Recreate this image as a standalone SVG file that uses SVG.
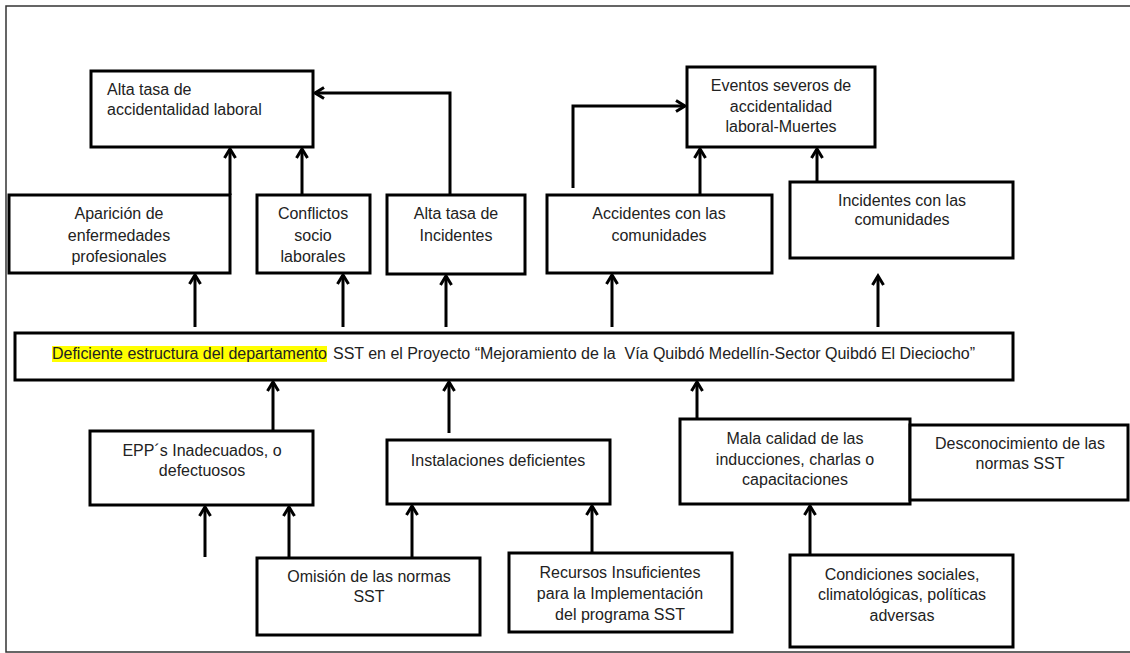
<svg xmlns="http://www.w3.org/2000/svg" width="1130" height="653" viewBox="0 0 1130 653">
<style>
.frame{fill:none;stroke:#333;stroke-width:1.5}
.box{fill:#fff;stroke:#000;stroke-width:3}
.t{font-family:"Liberation Sans",Arial,sans-serif;font-size:16px;fill:#222}
.c{text-anchor:middle}
.ln{fill:none;stroke:#000;stroke-width:3}
</style>
<defs>
<marker id="ah" markerUnits="userSpaceOnUse" markerWidth="20" markerHeight="20" viewBox="-12 -10 16 20" refX="0" refY="0" orient="auto">
<path d="M-9,-5.5 L0,0 L-9,5.5" fill="none" stroke="#000" stroke-width="3"/>
</marker>
</defs>
<rect width="1130" height="653" fill="#fff"/>
<rect class="frame" x="6" y="6" width="1130" height="646"/>

<g id="n-alta-accidentalidad">
<rect class="box" x="91" y="71" width="222" height="76"/>
<text class="t" x="107" y="95">Alta tasa de</text>
<text class="t" x="107" y="115">accidentalidad laboral</text>
</g>
<g id="n-eventos-severos">
<rect class="box" x="687" y="67" width="188" height="80"/>
<text class="t c" x="781" y="91">Eventos severos de</text>
<text class="t c" x="781" y="112">accidentalidad</text>
<text class="t c" x="781" y="132">laboral-Muertes</text>
</g>
<g id="n-aparicion">
<rect class="box" x="9" y="195" width="221" height="78"/>
<text class="t c" x="119" y="219">Aparición de</text>
<text class="t c" x="119" y="241">enfermedades</text>
<text class="t c" x="119" y="262">profesionales</text>
</g>
<g id="n-conflictos">
<rect class="box" x="257" y="195" width="113" height="78"/>
<text class="t c" x="313" y="219">Conflictos</text>
<text class="t c" x="313" y="241">socio</text>
<text class="t c" x="313" y="262">laborales</text>
</g>
<g id="n-alta-incidentes">
<rect class="box" x="387" y="195" width="138" height="79"/>
<text class="t c" x="456" y="219">Alta tasa de</text>
<text class="t c" x="456" y="241">Incidentes</text>
</g>
<g id="n-accidentes-comunidades">
<rect class="box" x="547" y="195" width="225" height="78"/>
<text class="t c" x="659" y="219">Accidentes con las</text>
<text class="t c" x="659" y="241">comunidades</text>
</g>
<g id="n-incidentes-comunidades">
<rect class="box" x="790" y="182" width="223" height="76"/>
<text class="t c" x="902" y="206">Incidentes con las</text>
<text class="t c" x="902" y="225">comunidades</text>
</g>
<g id="n-problema">
<rect class="box" x="15" y="333" width="998" height="47"/>
<rect x="52" y="346" width="275" height="16" fill="#ffff00"/>
<text class="t" x="52" y="359" textLength="275" lengthAdjust="spacing">Deficiente estructura del departamento</text>
<text class="t" x="333" y="359" textLength="642" lengthAdjust="spacing">SST en el Proyecto “Mejoramiento de la&#160; Vía Quibdó Medellín-Sector Quibdó El Dieciocho”</text>
</g>
<g id="n-epp">
<rect class="box" x="90" y="431" width="223" height="74"/>
<text class="t c" x="202" y="456">EPP´s Inadecuados, o</text>
<text class="t c" x="202" y="476">defectuosos</text>
</g>
<g id="n-instalaciones">
<rect class="box" x="387" y="440" width="223" height="64"/>
<text class="t c" x="498" y="466">Instalaciones deficientes</text>
</g>
<g id="n-mala-calidad">
<rect class="box" x="680" y="419" width="230" height="85"/>
<text class="t c" x="795" y="444">Mala calidad de las</text>
<text class="t c" x="795" y="465">inducciones, charlas o</text>
<text class="t c" x="795" y="485">capacitaciones</text>
</g>
<g id="n-desconocimiento">
<rect class="box" x="910" y="425" width="218" height="75"/>
<text class="t c" x="1020" y="449">Desconocimiento de las</text>
<text class="t c" x="1020" y="469">normas SST</text>
</g>
<g id="n-omision">
<rect class="box" x="257" y="558" width="223" height="77"/>
<text class="t c" x="369" y="582">Omisión de las normas</text>
<text class="t c" x="369" y="602">SST</text>
</g>
<g id="n-recursos">
<rect class="box" x="509" y="553" width="223" height="79"/>
<text class="t c" x="620" y="578">Recursos Insuficientes</text>
<text class="t c" x="620" y="599">para la Implementación</text>
<text class="t c" x="620" y="620">del programa SST</text>
</g>
<g id="n-condiciones">
<rect class="box" x="790" y="555" width="223" height="92"/>
<text class="t c" x="902" y="580">Condiciones sociales,</text>
<text class="t c" x="902" y="600">climatológicas, políticas</text>
<text class="t c" x="902" y="621">adversas</text>
</g>

<g id="connectors">
<path class="ln" marker-end="url(#ah)" d="M230,195 V149"/>
<path class="ln" marker-end="url(#ah)" d="M302,195 V149"/>
<path class="ln" marker-end="url(#ah)" d="M450,195 V93 H315"/>
<path class="ln" marker-end="url(#ah)" d="M573,188 V106 H685"/>
<path class="ln" marker-end="url(#ah)" d="M700,195 V149"/>
<path class="ln" marker-end="url(#ah)" d="M817,182 V149"/>
<path class="ln" marker-end="url(#ah)" d="M195,327 V275"/>
<path class="ln" marker-end="url(#ah)" d="M343,327 V275"/>
<path class="ln" marker-end="url(#ah)" d="M446,327 V276"/>
<path class="ln" marker-end="url(#ah)" d="M612,327 V275"/>
<path class="ln" marker-end="url(#ah)" d="M878,327 V276"/>
<path class="ln" marker-end="url(#ah)" d="M273,431 V382"/>
<path class="ln" marker-end="url(#ah)" d="M449,433 V382"/>
<path class="ln" marker-end="url(#ah)" d="M697,419 V382"/>
<path class="ln" marker-end="url(#ah)" d="M205,557 V507"/>
<path class="ln" marker-end="url(#ah)" d="M289,558 V507"/>
<path class="ln" marker-end="url(#ah)" d="M412,557 V506"/>
<path class="ln" marker-end="url(#ah)" d="M592,553 V506"/>
<path class="ln" marker-end="url(#ah)" d="M810,555 V506"/>
</g>
</svg>
